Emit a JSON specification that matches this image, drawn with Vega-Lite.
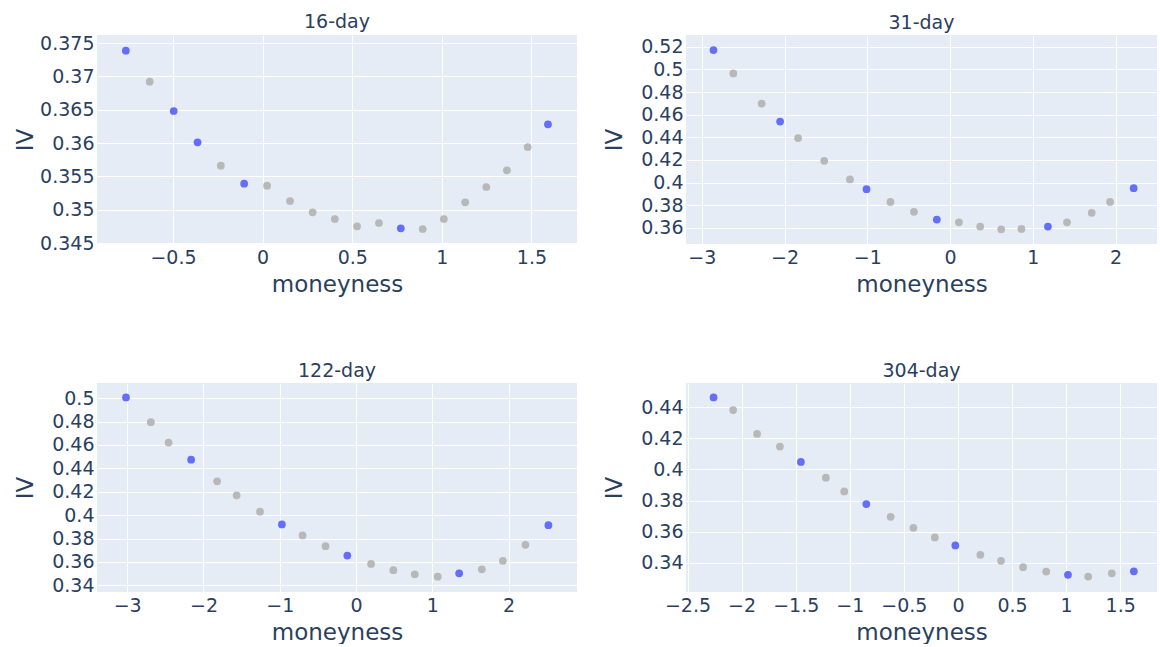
{
  "$schema": "https://vega.github.io/schema/vega-lite/v6.json",
  "padding": {"left": 14, "top": 12, "right": 0, "bottom": 0},
  "background": "white",
  "datasets": {
    "smile": [
      {"t": "16-day", "m": -0.763, "iv": 0.37385, "hl": "yes"},
      {"t": "16-day", "m": -0.630, "iv": 0.3692, "hl": "no"},
      {"t": "16-day", "m": -0.496, "iv": 0.3648, "hl": "yes"},
      {"t": "16-day", "m": -0.363, "iv": 0.3601, "hl": "yes"},
      {"t": "16-day", "m": -0.233, "iv": 0.3566, "hl": "no"},
      {"t": "16-day", "m": -0.103, "iv": 0.3539, "hl": "yes"},
      {"t": "16-day", "m": 0.025, "iv": 0.3536, "hl": "no"},
      {"t": "16-day", "m": 0.153, "iv": 0.3513, "hl": "no"},
      {"t": "16-day", "m": 0.279, "iv": 0.3496, "hl": "no"},
      {"t": "16-day", "m": 0.403, "iv": 0.3486, "hl": "no"},
      {"t": "16-day", "m": 0.527, "iv": 0.3475, "hl": "no"},
      {"t": "16-day", "m": 0.649, "iv": 0.3480, "hl": "no"},
      {"t": "16-day", "m": 0.771, "iv": 0.3472, "hl": "yes"},
      {"t": "16-day", "m": 0.893, "iv": 0.3471, "hl": "no"},
      {"t": "16-day", "m": 1.011, "iv": 0.3486, "hl": "no"},
      {"t": "16-day", "m": 1.130, "iv": 0.3511, "hl": "no"},
      {"t": "16-day", "m": 1.248, "iv": 0.3534, "hl": "no"},
      {"t": "16-day", "m": 1.363, "iv": 0.3559, "hl": "no"},
      {"t": "16-day", "m": 1.479, "iv": 0.3594, "hl": "no"},
      {"t": "16-day", "m": 1.592, "iv": 0.3628, "hl": "yes"},

      {"t": "31-day", "m": -2.858, "iv": 0.5171, "hl": "yes"},
      {"t": "31-day", "m": -2.618, "iv": 0.4964, "hl": "no"},
      {"t": "31-day", "m": -2.276, "iv": 0.4698, "hl": "no"},
      {"t": "31-day", "m": -2.053, "iv": 0.4539, "hl": "yes"},
      {"t": "31-day", "m": -1.836, "iv": 0.4394, "hl": "no"},
      {"t": "31-day", "m": -1.520, "iv": 0.4193, "hl": "no"},
      {"t": "31-day", "m": -1.209, "iv": 0.4028, "hl": "no"},
      {"t": "31-day", "m": -1.009, "iv": 0.3942, "hl": "yes"},
      {"t": "31-day", "m": -0.720, "iv": 0.3830, "hl": "no"},
      {"t": "31-day", "m": -0.436, "iv": 0.3742, "hl": "no"},
      {"t": "31-day", "m": -0.160, "iv": 0.3674, "hl": "yes"},
      {"t": "31-day", "m": 0.107, "iv": 0.3650, "hl": "no"},
      {"t": "31-day", "m": 0.364, "iv": 0.3612, "hl": "no"},
      {"t": "31-day", "m": 0.618, "iv": 0.3588, "hl": "no"},
      {"t": "31-day", "m": 0.862, "iv": 0.3591, "hl": "no"},
      {"t": "31-day", "m": 1.182, "iv": 0.3612, "hl": "yes"},
      {"t": "31-day", "m": 1.413, "iv": 0.3650, "hl": "no"},
      {"t": "31-day", "m": 1.711, "iv": 0.3733, "hl": "no"},
      {"t": "31-day", "m": 1.933, "iv": 0.3830, "hl": "no"},
      {"t": "31-day", "m": 2.218, "iv": 0.3951, "hl": "yes"},

      {"t": "122-day", "m": -3.016, "iv": 0.5006, "hl": "yes"},
      {"t": "122-day", "m": -2.690, "iv": 0.4794, "hl": "no"},
      {"t": "122-day", "m": -2.458, "iv": 0.4620, "hl": "no"},
      {"t": "122-day", "m": -2.162, "iv": 0.4474, "hl": "yes"},
      {"t": "122-day", "m": -1.821, "iv": 0.4289, "hl": "no"},
      {"t": "122-day", "m": -1.565, "iv": 0.4169, "hl": "no"},
      {"t": "122-day", "m": -1.259, "iv": 0.4029, "hl": "no"},
      {"t": "122-day", "m": -0.972, "iv": 0.3920, "hl": "yes"},
      {"t": "122-day", "m": -0.701, "iv": 0.3826, "hl": "no"},
      {"t": "122-day", "m": -0.400, "iv": 0.3734, "hl": "no"},
      {"t": "122-day", "m": -0.114, "iv": 0.3654, "hl": "yes"},
      {"t": "122-day", "m": 0.197, "iv": 0.3583, "hl": "no"},
      {"t": "122-day", "m": 0.489, "iv": 0.3529, "hl": "no"},
      {"t": "122-day", "m": 0.770, "iv": 0.3494, "hl": "no"},
      {"t": "122-day", "m": 1.071, "iv": 0.3474, "hl": "no"},
      {"t": "122-day", "m": 1.352, "iv": 0.3503, "hl": "yes"},
      {"t": "122-day", "m": 1.649, "iv": 0.3537, "hl": "no"},
      {"t": "122-day", "m": 1.925, "iv": 0.3609, "hl": "no"},
      {"t": "122-day", "m": 2.221, "iv": 0.3746, "hl": "no"},
      {"t": "122-day", "m": 2.522, "iv": 0.3914, "hl": "yes"},

      {"t": "304-day", "m": -2.259, "iv": 0.4462, "hl": "yes"},
      {"t": "304-day", "m": -2.078, "iv": 0.4381, "hl": "no"},
      {"t": "304-day", "m": -1.857, "iv": 0.4228, "hl": "no"},
      {"t": "304-day", "m": -1.646, "iv": 0.4147, "hl": "no"},
      {"t": "304-day", "m": -1.452, "iv": 0.4048, "hl": "yes"},
      {"t": "304-day", "m": -1.221, "iv": 0.3947, "hl": "no"},
      {"t": "304-day", "m": -1.051, "iv": 0.3859, "hl": "no"},
      {"t": "304-day", "m": -0.847, "iv": 0.3778, "hl": "yes"},
      {"t": "304-day", "m": -0.622, "iv": 0.3696, "hl": "no"},
      {"t": "304-day", "m": -0.412, "iv": 0.3625, "hl": "no"},
      {"t": "304-day", "m": -0.214, "iv": 0.3563, "hl": "no"},
      {"t": "304-day", "m": -0.024, "iv": 0.3512, "hl": "yes"},
      {"t": "304-day", "m": 0.207, "iv": 0.3452, "hl": "no"},
      {"t": "304-day", "m": 0.398, "iv": 0.3413, "hl": "no"},
      {"t": "304-day", "m": 0.602, "iv": 0.3372, "hl": "no"},
      {"t": "304-day", "m": 0.816, "iv": 0.3344, "hl": "no"},
      {"t": "304-day", "m": 1.017, "iv": 0.3323, "hl": "yes"},
      {"t": "304-day", "m": 1.204, "iv": 0.3312, "hl": "no"},
      {"t": "304-day", "m": 1.422, "iv": 0.3333, "hl": "no"},
      {"t": "304-day", "m": 1.626, "iv": 0.3346, "hl": "yes"}
    ]
  },
  "vconcat": [
    {
      "hconcat": [
        {
          "title": "16-day",
          "width": 480, "height": 209,
          "data": {"name": "smile"},
          "transform": [{"filter": "datum.t == '16-day'"}],
          "mark": {"type": "point", "filled": true, "opacity": 1, "size": 60},
          "encoding": {
            "x": {"field": "m", "type": "quantitative", "title": "moneyness",
                  "scale": {"domain": [-0.924, 1.754], "nice": false, "zero": false},
                  "axis": {"values": [-0.5, 0, 0.5, 1, 1.5], "format": ".1~f"}},
            "y": {"field": "iv", "type": "quantitative", "title": "IV",
                  "scale": {"domain": [0.34485, 0.3762], "nice": false, "zero": false},
                  "axis": {"values": [0.345, 0.35, 0.355, 0.36, 0.365, 0.37, 0.375], "format": ".3~f"}},
            "color": {"field": "hl", "type": "nominal", "legend": null,
                      "scale": {"domain": ["yes", "no"], "range": ["#636EFA", "#B8B8B8"]}}
          }
        },
        {
          "title": "31-day",
          "width": 471, "height": 209,
          "data": {"name": "smile"},
          "transform": [{"filter": "datum.t == '31-day'"}],
          "mark": {"type": "point", "filled": true, "opacity": 1, "size": 60},
          "encoding": {
            "x": {"field": "m", "type": "quantitative", "title": "moneyness",
                  "scale": {"domain": [-3.19, 2.50], "nice": false, "zero": false},
                  "axis": {"values": [-3, -2, -1, 0, 1, 2], "format": "d"}},
            "y": {"field": "iv", "type": "quantitative", "title": "IV",
                  "scale": {"domain": [0.3458, 0.5304], "nice": false, "zero": false},
                  "axis": {"values": [0.36, 0.38, 0.4, 0.42, 0.44, 0.46, 0.48, 0.5, 0.52], "format": ".2~f"}},
            "color": {"field": "hl", "type": "nominal", "legend": null,
                      "scale": {"domain": ["yes", "no"], "range": ["#636EFA", "#B8B8B8"]}}
          }
        }
      ],
      "spacing": 26
    },
    {
      "hconcat": [
        {
          "title": "122-day",
          "width": 480, "height": 209,
          "data": {"name": "smile"},
          "transform": [{"filter": "datum.t == '122-day'"}],
          "mark": {"type": "point", "filled": true, "opacity": 1, "size": 60},
          "encoding": {
            "x": {"field": "m", "type": "quantitative", "title": "moneyness",
                  "scale": {"domain": [-3.396, 2.897], "nice": false, "zero": false},
                  "axis": {"values": [-3, -2, -1, 0, 1, 2], "format": "d"}},
            "y": {"field": "iv", "type": "quantitative", "title": "IV",
                  "scale": {"domain": [0.3343, 0.5129], "nice": false, "zero": false},
                  "axis": {"values": [0.34, 0.36, 0.38, 0.4, 0.42, 0.44, 0.46, 0.48, 0.5], "format": ".2~f"}},
            "color": {"field": "hl", "type": "nominal", "legend": null,
                      "scale": {"domain": ["yes", "no"], "range": ["#636EFA", "#B8B8B8"]}}
          }
        },
        {
          "title": "304-day",
          "width": 471, "height": 209,
          "data": {"name": "smile"},
          "transform": [{"filter": "datum.t == '304-day'"}],
          "mark": {"type": "point", "filled": true, "opacity": 1, "size": 60},
          "encoding": {
            "x": {"field": "m", "type": "quantitative", "title": "moneyness",
                  "scale": {"domain": [-2.514, 1.840], "nice": false, "zero": false},
                  "axis": {"values": [-2.5, -2, -1.5, -1, -0.5, 0, 0.5, 1, 1.5], "format": ".1~f"}},
            "y": {"field": "iv", "type": "quantitative", "title": "IV",
                  "scale": {"domain": [0.3213, 0.4555], "nice": false, "zero": false},
                  "axis": {"values": [0.34, 0.36, 0.38, 0.4, 0.42, 0.44], "format": ".2~f"}},
            "color": {"field": "hl", "type": "nominal", "legend": null,
                      "scale": {"domain": ["yes", "no"], "range": ["#636EFA", "#B8B8B8"]}}
          }
        }
      ],
      "spacing": 26
    }
  ],
  "spacing": 66,
  "resolve": {"scale": {"color": "shared"}},
  "config": {
    "font": "DejaVu Sans",
    "view": {"fill": "#E5ECF6", "stroke": null},
    "axis": {
      "grid": true, "gridColor": "#FFFFFF", "gridWidth": 1, "gridOpacity": 1,
      "domain": false, "ticks": false,
      "labelFontSize": 19, "labelColor": "#2A3F5F", "labelPadding": 4,
      "titleFontSize": 23, "titleColor": "#2A3F5F", "titleFontWeight": "normal"
    },
    "axisY": {"minExtent": 60, "maxExtent": 60, "titlePadding": 0, "labelPadding": 3},
    "axisX": {"labelPadding": 4, "titlePadding": 6, "labelFlush": false, "labelOverlap": false},
    "title": {"fontSize": 19, "fontWeight": "normal", "color": "#2A3F5F", "offset": 2, "anchor": "middle"}
  }
}
